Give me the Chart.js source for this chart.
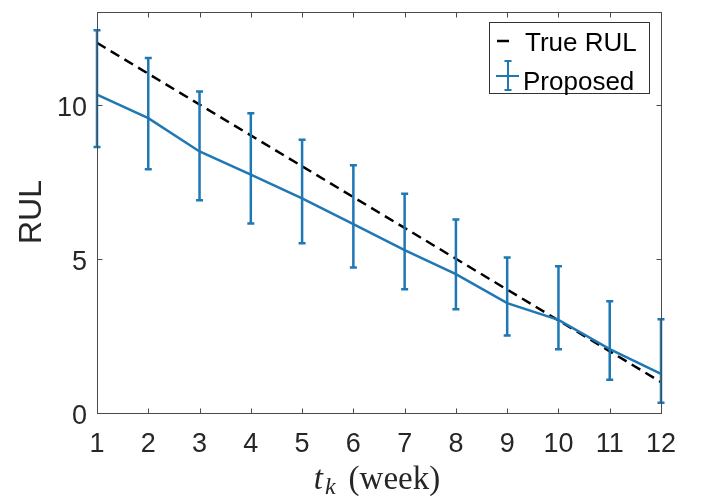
<!DOCTYPE html>
<html>
<head>
<meta charset="utf-8">
<title>RUL prediction</title>
<script src="https://cdn.jsdelivr.net/npm/chart.js@4.4.1/dist/chart.umd.min.js"></script>
<style>
  html, body { margin: 0; padding: 0; background: #fff; }
  #wrap { width: 713px; height: 498px; position: relative; }
</style>
</head>
<body>
<div id="wrap"><canvas id="rulPlot"></canvas></div>
<script>
// values
const weeks = [1, 2, 3, 4, 5, 6, 7, 8, 9, 10, 11, 12];
const trueRul = [12, 11, 10, 9, 8, 7, 6, 5, 4, 3, 2, 1];
const proposed = [10.32, 9.56, 8.48, 7.73, 6.96, 6.12, 5.28, 4.50, 3.56, 3.02, 2.07, 1.27];
const upperBound = [12.41, 11.51, 10.42, 9.72, 8.86, 8.03, 7.11, 6.27, 5.04, 4.76, 3.62, 3.04];
const lowerBound = [8.62, 7.90, 6.90, 6.14, 5.50, 4.72, 4.01, 3.36, 2.51, 2.07, 1.08, 0.33];
const yTickValues = [0, 5, 10];

const blue = '#1f77b4';
const axisColor = '#4a4a4a';
const textColor = '#262626';
const sans = '"Liberation Sans", Arial, Helvetica, sans-serif';
const serif = '"Liberation Serif", "Times New Roman", serif';

// error bars, box with inward ticks, axis labels and legend
const decorations = {
    id: 'decorations',
    afterDatasetsDraw(chart) {
        const ctx = chart.ctx;
        const xs = chart.scales.x;
        const ys = chart.scales.y;
        ctx.save();
        ctx.strokeStyle = blue;
        ctx.lineWidth = 2.5;
        for (let i = 0; i < weeks.length; i++) {
            const px = xs.getPixelForValue(weeks[i]);
            const top = ys.getPixelForValue(upperBound[i]);
            const bot = ys.getPixelForValue(lowerBound[i]);
            ctx.beginPath();
            ctx.moveTo(px, top);
            ctx.lineTo(px, bot);
            ctx.moveTo(px - 3.5, top);
            ctx.lineTo(px + 3.5, top);
            ctx.moveTo(px - 3.5, bot);
            ctx.lineTo(px + 3.5, bot);
            ctx.stroke();
        }
        ctx.restore();
    },
    afterDraw(chart) {
        const ctx = chart.ctx;
        const a = chart.chartArea;
        const xs = chart.scales.x;
        const ys = chart.scales.y;
        ctx.save();

        // box
        ctx.strokeStyle = axisColor;
        ctx.lineWidth = 1;
        const L = Math.round(a.left) + 0.5, R = Math.round(a.right) + 0.5;
        const T = Math.round(a.top) + 0.5, B = Math.round(a.bottom) + 0.5;
        ctx.strokeRect(L, T, R - L, B - T);

        // ticks pointing inward on all sides
        const tl = 5;
        ctx.beginPath();
        xs.ticks.forEach(t => {
            const px = Math.round(xs.getPixelForValue(t.value)) + 0.5;
            ctx.moveTo(px, B); ctx.lineTo(px, B - tl);
            ctx.moveTo(px, T); ctx.lineTo(px, T + tl);
        });
        ys.ticks.forEach(t => {
            const py = Math.round(ys.getPixelForValue(t.value)) + 0.5;
            ctx.moveTo(L, py); ctx.lineTo(L + tl, py);
            ctx.moveTo(R, py); ctx.lineTo(R - tl, py);
        });
        ctx.stroke();

        // y label
        ctx.fillStyle = textColor;
        ctx.font = '32px ' + sans;
        ctx.textAlign = 'center';
        ctx.textBaseline = 'middle';
        ctx.translate(32, 212);
        ctx.rotate(-Math.PI / 2);
        ctx.fillText('RUL', 0, 0);
        ctx.setTransform(chart.currentDevicePixelRatio, 0, 0, chart.currentDevicePixelRatio, 0, 0);

        // x label: t_k (week)
        ctx.textAlign = 'left';
        ctx.textBaseline = 'alphabetic';
        ctx.font = 'italic 33px ' + serif;
        const tW = ctx.measureText('t').width;
        ctx.font = 'italic 24px ' + serif;
        const kW = ctx.measureText('k').width;
        ctx.font = '33px ' + serif;
        const restW = ctx.measureText('(week)').width;
        const gap = 13;
        const total = tW + 2 + kW + gap + restW;
        const x0 = 377 - total / 2;
        const base = 489;
        ctx.font = 'italic 33px ' + serif;
        ctx.fillText('t', x0, base);
        ctx.font = 'italic 24px ' + serif;
        ctx.fillText('k', x0 + tW + 2, base + 5);
        ctx.font = '33px ' + serif;
        ctx.fillText('(week)', x0 + tW + 2 + kW + gap, base);

        // legend
        ctx.fillStyle = '#fff';
        ctx.fillRect(489.5, 22.5, 160, 71);
        ctx.strokeStyle = '#333';
        ctx.lineWidth = 1;
        ctx.strokeRect(489.5, 22.5, 160, 71);

        ctx.strokeStyle = '#000';
        ctx.lineWidth = 2.5;
        ctx.beginPath();
        ctx.moveTo(497, 41); ctx.lineTo(509, 41);
        ctx.stroke();

        ctx.strokeStyle = blue;
        ctx.lineWidth = 2;
        ctx.beginPath();
        ctx.moveTo(496, 76); ctx.lineTo(519, 76);
        ctx.moveTo(508, 61); ctx.lineTo(508, 90);
        ctx.moveTo(504.5, 61); ctx.lineTo(511.5, 61);
        ctx.moveTo(504.5, 90); ctx.lineTo(511.5, 90);
        ctx.stroke();

        ctx.fillStyle = '#000';
        ctx.font = '26px ' + sans;
        ctx.fillText('True RUL', 525, 51);
        ctx.fillText('Proposed', 523, 90);

        ctx.restore();
    }
};

const ctx = document.getElementById('rulPlot').getContext('2d');
const chart = new Chart(ctx, {
    type: 'line',
    data: {
        labels: weeks,
        datasets: [{
            label: 'True RUL',
            data: trueRul,
            borderColor: '#000',
            borderWidth: 2.5,
            borderDash: [10, 6],
            pointRadius: 0,
            fill: false,
            order: 2
        }, {
            label: 'Proposed',
            data: proposed,
            borderColor: blue,
            borderWidth: 2.5,
            pointRadius: 0,
            fill: false,
            order: 1
        }]
    },
    options: {
        responsive: true,
        maintainAspectRatio: false,
        animation: false,
        layout: { padding: { left: 0, top: 12, right: 52, bottom: 0 } },
        plugins: { legend: { display: false }, tooltip: { enabled: false } },
        elements: { line: { tension: 0 } },
        scales: {
            x: {
                type: 'linear',
                min: 1,
                max: 12,
                grid: { display: false, drawTicks: false },
                border: { display: false },
                ticks: {
                    stepSize: 1,
                    padding: 15,
                    color: textColor,
                    font: { family: sans, size: 27 },
                    maxRotation: 0
                },
                afterFit(scale) {
                    scale.height = 85;
                    scale.paddingLeft = 0;
                    scale.paddingRight = 0;
                }
            },
            y: {
                min: 0,
                max: 13,
                grid: { display: false, drawTicks: false },
                border: { display: false },
                ticks: {
                    padding: 10,
                    labelOffset: 4,
                    color: textColor,
                    font: { family: sans, size: 27 }
                },
                afterBuildTicks(scale) {
                    scale.ticks = yTickValues.map(v => ({ value: v }));
                },
                afterFit(scale) {
                    scale.width = 97;
                    scale.paddingTop = 0;
                    scale.paddingBottom = 0;
                }
            }
        }
    },
    plugins: [decorations]
});
</script>
</body>
</html>
